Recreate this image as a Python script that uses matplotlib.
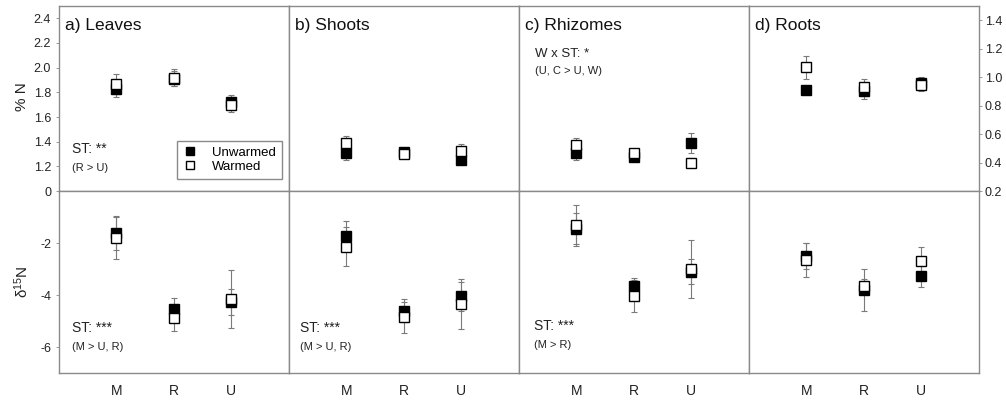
import matplotlib
matplotlib.use('Agg')
import matplotlib.pyplot as plt

plt.rcParams['font.family'] = ['Liberation Sans', 'DejaVu Sans']
plt.rcParams['mathtext.fontset'] = 'custom'
plt.rcParams['mathtext.rm'] = 'Liberation Sans'
plt.rcParams['mathtext.it'] = 'Liberation Sans:italic'

parts = ['a) Leaves', 'b) Shoots', 'c) Rhizomes', 'd) Roots']
sites = ['M', 'R', 'U']

# % N, means and SE per site (M, R, U)
n_unw = [[1.83, 1.91, 1.72], [0.47, 0.475, 0.42], [0.47, 0.44, 0.54], [0.91, 0.90, 0.96]]
n_unw_se = [[0.07, 0.06, 0.06], [0.05, 0.02, 0.03], [0.05, 0.02, 0.07], [0.03, 0.05, 0.04]]
n_w = [[1.87, 1.92, 1.70], [0.54, 0.46, 0.48], [0.52, 0.47, 0.40], [1.07, 0.93, 0.945]]
n_w_se = [[0.08, 0.07, 0.06], [0.05, 0.02, 0.05], [0.05, 0.02, 0.03], [0.08, 0.06, 0.04]]

# delta 15N, means and SE
d15_unw = [[-1.6, -4.55, -4.25], [-1.73, -4.6, -4.05], [-1.45, -3.65, -3.1], [-2.5, -3.8, -3.26]]
d15_unw_se = [[0.65, 0.45, 0.5], [0.58, 0.45, 0.55], [0.6, 0.3, 0.48], [0.5, 0.8, 0.45]]
d15_w = [[-1.8, -4.9, -4.15], [-2.15, -4.85, -4.35], [-1.32, -4.05, -3.0], [-2.65, -3.67, -2.68]]
d15_w_se = [[0.8, 0.5, 1.1], [0.75, 0.6, 0.95], [0.78, 0.62, 1.1], [0.65, 0.3, 0.54]]

W, H = 1006, 401
fig = plt.figure(figsize=(W / 100, H / 100), dpi=100)

frame = '#8a8a8a'
txt = '#222222'
x = [1, 2, 3]


def px_axes(x0, y0, x1, y1):
    return fig.add_axes([x0 / W, 1 - y1 / H, (x1 - x0) / W, (y1 - y0) / H])


def draw(ax, um, us, wm, ws):
    ax.errorbar(x, um, yerr=us, fmt='none', ecolor='#7a7a7a', elinewidth=0.8,
                capsize=2.5, capthick=0.8, zorder=2)
    ax.errorbar(x, wm, yerr=ws, fmt='none', ecolor='#7a7a7a', elinewidth=0.8,
                capsize=2.5, capthick=0.8, zorder=2)
    h1, = ax.plot(x, um, 's', ms=6.5, mfc='black', mec='black', mew=1,
                  ls='none', zorder=3, label='Unwarmed')
    h2, = ax.plot(x, wm, 's', ms=6.5, mfc='white', mec='black', mew=1,
                  ls='none', zorder=4, label='Warmed')
    ax.set_xlim(0, 4)
    for s in ax.spines.values():
        s.set_color(frame)
        s.set_linewidth(1)
    ax.tick_params(colors=frame, labelcolor=txt, length=2, width=0.6)
    return h1, h2


lefts = [58.7, 288.7, 518.7, 748.7]
handles = None
for i in range(4):
    top = px_axes(lefts[i], 6, lefts[i] + 230, 191)
    bot = px_axes(lefts[i], 191, lefts[i] + 230, 373)

    h = draw(top, n_unw[i], n_unw_se[i], n_w[i], n_w_se[i])
    draw(bot, d15_unw[i], d15_unw_se[i], d15_w[i], d15_w_se[i])
    if i == 0:
        handles = h

    top.set_xticks([])
    if i == 0:
        top.set_ylim(1.0, 2.5)
        top.set_yticks([1.2, 1.4, 1.6, 1.8, 2.0, 2.2, 2.4])
        top.set_yticklabels(['1.2', '1.4', '1.6', '1.8', '2.0', '2.2', '2.4'], fontsize=9)
    else:
        top.set_ylim(0.2, 1.5)
        if i == 3:
            top.yaxis.tick_right()
            top.set_yticks([0.2, 0.4, 0.6, 0.8, 1.0, 1.2, 1.4])
            top.set_yticklabels(['0.2', '0.4', '0.6', '0.8', '1.0', '1.2', '1.4'], fontsize=9)
            top.tick_params(axis='y', pad=2.5)
        else:
            top.set_yticks([])

    bot.set_ylim(-7, 0)
    if i == 0:
        bot.set_yticks([0, -2, -4, -6])
        bot.set_yticklabels(['0', '-2', '-4', '-6'], fontsize=9)
    else:
        bot.set_yticks([])
    bot.set_xticks(x)
    bot.set_xticklabels(sites, fontsize=10)
    bot.tick_params(axis='x', length=0, pad=8)

    top.text(0.027, 0.87, parts[i], transform=top.transAxes, fontsize=12.5,
             color='#111111', va='baseline')

    if i == 0:
        top.text(0.057, 0.207, 'ST: **', transform=top.transAxes, fontsize=10,
                 color=txt, va='baseline')
        top.text(0.057, 0.11, '(R > U)', transform=top.transAxes, fontsize=8,
                 color=txt, va='baseline')
        top.legend(handles, ['Unwarmed', 'Warmed'], loc='lower right',
                   bbox_to_anchor=(0.971, 0.065), fontsize=9.5, frameon=True,
                   fancybox=False, edgecolor=frame, framealpha=1,
                   markerscale=0.85, handlelength=1.0, handletextpad=1.2,
                   borderpad=0.45, labelspacing=0.15, borderaxespad=0)
    if i == 2:
        top.text(0.07, 0.726, 'W x ST: *', transform=top.transAxes, fontsize=9.5,
                 color=txt, va='baseline')
        top.text(0.07, 0.632, '(U, C > U, W)', transform=top.transAxes, fontsize=8,
                 color=txt, va='baseline')

    if i in (0, 1):
        xt = 0.057 if i == 0 else 0.049
        bot.text(xt, 0.227, 'ST: ***', transform=bot.transAxes, fontsize=10,
                 color=txt, va='baseline')
        bot.text(xt, 0.126, '(M > U, R)', transform=bot.transAxes, fontsize=8,
                 color=txt, va='baseline')
    if i == 2:
        bot.text(0.065, 0.236, 'ST: ***', transform=bot.transAxes, fontsize=10,
                 color=txt, va='baseline')
        bot.text(0.065, 0.136, '(M > R)', transform=bot.transAxes, fontsize=8,
                 color=txt, va='baseline')

fig.text(22 / W, 1 - 97 / H, '% N', rotation=90, ha='center', va='center',
         fontsize=11, color=txt)
fig.text(22 / W, 1 - 282 / H, 'δ$^{15}$N', rotation=90, ha='center',
         va='center', fontsize=11, color=txt)

fig.savefig('out.png', dpi=100)
